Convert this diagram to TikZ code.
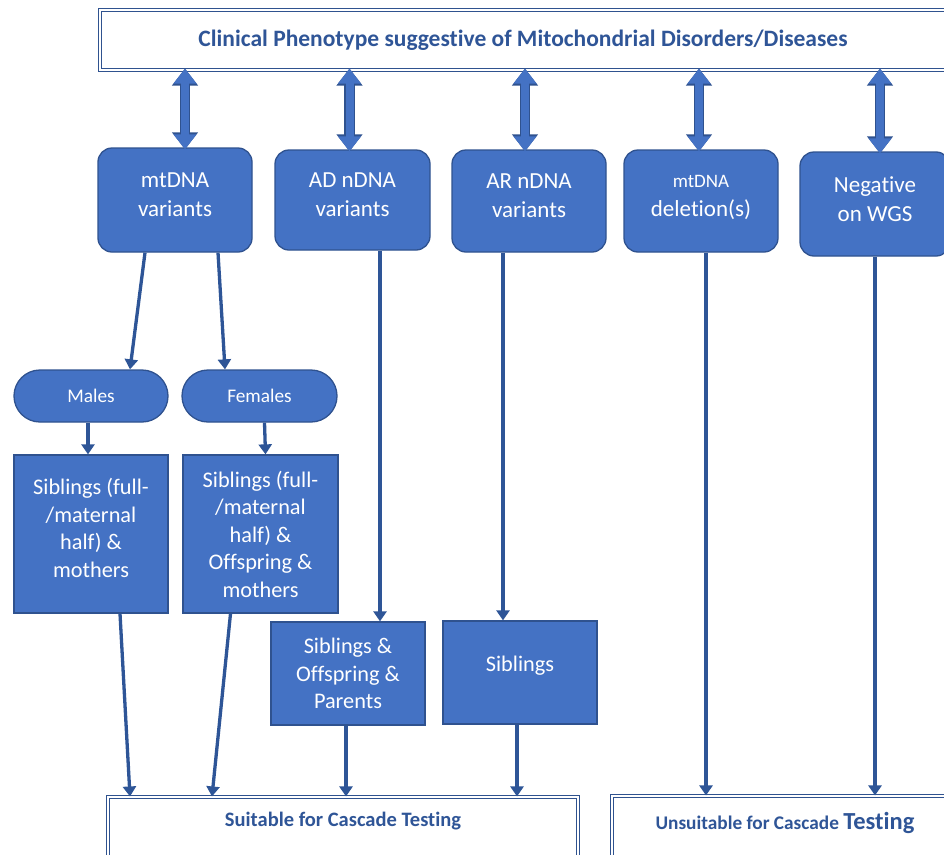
\documentclass[tikz,border=0pt]{standalone}
\usepackage{fontspec}
\setmainfont{Carlito}[Ligatures={NoCommon,NoRequired,NoContextual}]
\usetikzlibrary{arrows.meta,calc}
\definecolor{fillc}{HTML}{4472C4}
\definecolor{bordc}{HTML}{2F528F}
\definecolor{titlec}{HTML}{2F5597}
\definecolor{linec}{HTML}{2E5597}
\begin{document}
\begin{tikzpicture}[x=1pt,y=-1pt,
  rbox/.style={draw=bordc, line width=1.3pt, fill=fillc, rounded corners=14pt, text=white, align=center,
     font=\fontsize{23}{29}\selectfont, inner sep=0pt},
  pill/.style={draw=bordc, line width=1.3pt, fill=fillc, rounded corners=26pt, text=white, align=center,
     font=\fontsize{19.3}{22}\selectfont, inner sep=0pt, minimum height=52pt},
  sbox/.style={draw=bordc, line width=1.3pt, fill=fillc, text=white, align=center,
     font=\fontsize{22.3}{27.5}\selectfont, inner sep=0pt},
  wbox/.style={draw=bordc, line width=1.1pt, double=white, double distance=1.3pt, fill=white,
     text=titlec, font=\bfseries, inner sep=0pt},
  conn/.style={draw=linec, line width=3.3pt, -{Triangle[width=13pt,length=10pt]}},
  blockarr/.style={draw=fillc, line width=8pt, {Triangle[width=22pt,length=15pt]}-{Triangle[width=22pt,length=15pt]},
     preaction={draw=bordc, line width=10.5pt, arrows={Triangle[width=25pt,length=17pt]}-{Triangle[width=25pt,length=17pt]}}}
]
\useasboundingbox (0,0) rectangle (944,854);
\fill[white] (0,0) rectangle (944,854);

% top box
\node[wbox, minimum width=846pt, minimum height=60pt, font=\bfseries\fontsize{23.5}{26}\selectfont] (top) at (523,40) {Clinical Phenotype suggestive of Mitochondrial Disorders/Diseases};

% second row
\node[rbox, minimum width=154pt, minimum height=104pt] (mt) at (175,200) {mtDNA\\variants\\[-19pt]};
\node[rbox, minimum width=155pt, minimum height=100pt] (ad) at (352.5,200) {AD nDNA\\variants\\[-19pt]};
\node[rbox, minimum width=154pt, minimum height=102pt] (ar) at (529,201) {AR nDNA\\variants\\[-19pt]};
\node[rbox, minimum width=154pt, minimum height=102pt] (del) at (701,201) {{\fontsize{19}{20}\selectfont mtDNA}\\deletion(s)\\[-19pt]};
\node[rbox, minimum width=150pt, minimum height=104pt] (wgs) at (875,204) {Negative\\on WGS\\[-19pt]};

% block arrows
\coordinate (b1) at ([xshift=10pt]mt.north);
\coordinate (b2) at ([xshift=-3pt]ad.north);
\coordinate (b3) at ([xshift=-4pt]ar.north);
\coordinate (b4) at ([xshift=-2pt]del.north);
\coordinate (b5) at ([xshift=5pt]wgs.north);
\foreach \b in {b1,b2,b3,b4,b5}{
  \draw[blockarr] ([yshift=2pt]\b |- top.south) -- ([yshift=-2pt]\b);
}

% pills
\node[pill, minimum width=154pt] (males) at (91,396) {Males};
\node[pill, minimum width=155pt] (females) at (259.5,396) {Females};

% sibling boxes row 3
\node[sbox, minimum width=154pt, minimum height=158pt] (sibl) at (91,534) {Siblings (full-\\/maternal\\half) \&\\mothers\\[-15pt]};
\node[sbox, minimum width=155pt, minimum height=158pt] (sibr) at (260.5,534) {Siblings (full-\\/maternal\\half) \&\\Offspring \&\\mothers};

% row 4
\node[sbox, minimum width=154pt, minimum height=103pt] (sop) at (348,673.5) {Siblings \&\\Offspring \&\\Parents};
\node[sbox, minimum width=154pt, minimum height=103pt] (sib) at (520,672.5) {Siblings\\[-10pt]};

% bottom boxes
\node[wbox, minimum width=470pt, minimum height=70pt] (suit) at (343,832) {};
\node[text=titlec, font=\bfseries\fontsize{20.5}{22}\selectfont] (suitt) at (343,821) {Suitable for Cascade Testing};
\node[wbox, minimum width=334pt, minimum height=70pt] (unsuit) at (779,831) {};
\node[text=titlec, font=\bfseries\fontsize{19.3}{22}\selectfont] (unsuitt) at (785,823) {Unsuitable for Cascade {\fontsize{24.5}{22}\selectfont Testing}};

% connectors
\draw[conn] ([xshift=-30pt]mt.south) -- ([xshift=39pt]males.north);
\draw[conn] ([xshift=43pt]mt.south) -- ([xshift=-34.5pt]females.north);
\draw[conn] ([xshift=-3pt]males.south) -- ([xshift=-3pt]sibl.north);
\draw[conn] ([xshift=5pt]females.south) -- ([xshift=5pt]sibr.north);
\coordinate (c1) at ([xshift=27.5pt]ad.south);
\draw[conn] (c1) -- (c1 |- sop.north);
\coordinate (c2) at ([xshift=-26pt]ar.south);
\draw[conn] (c2) -- (c2 |- sib.north);
\coordinate (c3) at ([xshift=29pt]sibl.south);
\coordinate (c3e) at ([xshift=-213pt]suit.north);
\draw[conn] (c3) -- (c3e |- suit.north);
\coordinate (c4) at ([xshift=-30pt]sibr.south);
\coordinate (c4e) at ([xshift=-131pt]suit.north);
\draw[conn] (c4) -- (c4e |- suit.north);
\coordinate (c5) at ([xshift=-2pt]sop.south);
\draw[conn] (c5) -- (c5 |- suit.north);
\coordinate (c6) at ([xshift=-3pt]sib.south);
\draw[conn] (c6) -- (c6 |- suit.north);
\coordinate (c7) at ([xshift=5pt]del.south);
\draw[conn] (c7) -- (c7 |- unsuit.north);
\coordinate (c8) at (wgs.south);
\draw[conn] (c8) -- (c8 |- unsuit.north);
\end{tikzpicture}
\end{document}
